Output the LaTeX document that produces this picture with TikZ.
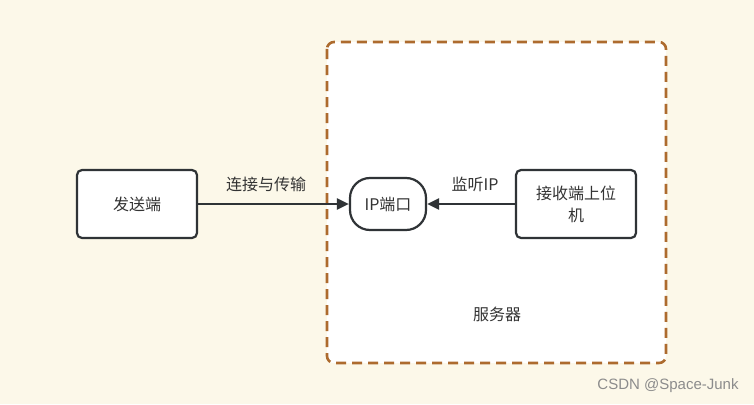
\documentclass[tikz,border=0pt]{standalone}
\usepackage{fontspec}
\setmainfont{Noto Sans CJK SC}
\newfontfamily\wmfont{Liberation Sans}
\usetikzlibrary{arrows.meta}
\definecolor{bgc}{HTML}{FCF8E9}
\definecolor{brd}{HTML}{AD6B2E}
\definecolor{lnc}{HTML}{2F3336}
\definecolor{txc}{HTML}{333333}
\tikzset{
  box/.style={draw=lnc, line width=2.2pt, fill=white, rounded corners=5pt, minimum width=120pt, minimum height=68pt, inner sep=0pt, align=center, font=\fontsize{16}{22}\selectfont, text=txc},
  pill/.style={draw=lnc, line width=2.2pt, fill=white, rounded corners=20pt, minimum width=76pt, minimum height=52pt, inner sep=0pt, font=\fontsize{16}{22}\selectfont, text=txc},
  conn/.style={draw=lnc, line width=2.2pt, -{Triangle[length=12pt,width=11pt]}},
  lbl/.style={font=\fontsize{16}{22}\selectfont, text=txc}
}
\begin{document}
\begin{tikzpicture}[x=1pt,y=-1pt]
\fill[bgc] (0,0) rectangle (754,404);
\useasboundingbox (0,0) rectangle (754,404);
\draw[brd, fill=white, line width=2.6pt, dash pattern=on 10pt off 6pt, rounded corners=7pt] (327,42) rectangle (666,363);
\node[box] (send) at (137,204) {发送端};
\node[pill] (ip) at (388,204) {IP端口};
\node[box, text width=110pt] (recv) at (576,204) {接收端上位\\机};
\draw[conn] (send.east) -- (ip.west);
\draw[conn] (recv.west) -- (ip.east);
\node[lbl] (l1) at (266,184) {连接与传输};
\node[lbl] (l2) at (475,184) {监听IP};
\node[lbl] (srv) at (497,314) {服务器};
\node[font=\wmfont\fontsize{15}{17}\selectfont, text=black!45] (wm) at (668,386) {CSDN @Space-Junk};
\end{tikzpicture}
\end{document}
